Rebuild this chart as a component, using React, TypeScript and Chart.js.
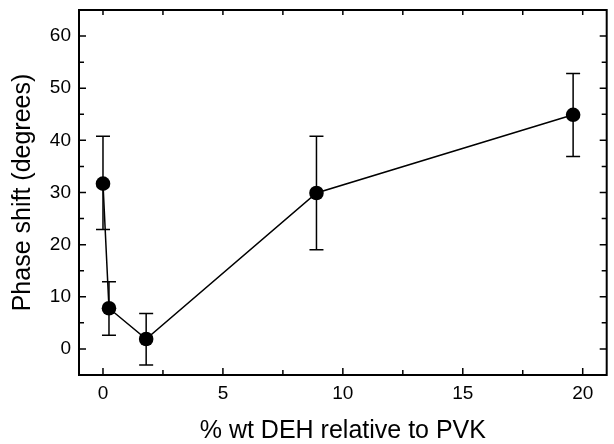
import React, { useEffect, useRef } from "react";
import { Chart, registerables } from "chart.js";

Chart.register(...registerables);

const xValues = [0, 0.25, 1.8, 8.9, 19.6];
const yValues = [31.7, 7.8, 1.9, 29.9, 44.9];
const errLow = [22.9, 2.6, -3.1, 19.0, 36.9];
const errHigh = [40.8, 12.9, 6.8, 40.8, 52.8];
const xTicks = [0, 5, 10, 15, 20];
const yTicks = [0, 10, 20, 30, 40, 50, 60];
const xMinor = [-2.5, 2.5, 7.5, 12.5, 17.5];
const yMinor = [5, 15, 25, 35, 45, 55, 65];
const xTitle = "% wt DEH relative to PVK";
const yTitle = "Phase shift (degrees)";

const FONT = "'Liberation Sans', Arial, sans-serif";

const framePlugin = {
  id: "frameTicks",
  afterDatasetsDraw(chart: any) {
    const { ctx, chartArea: a, scales } = chart;
    const xs = scales.x;
    const ys = scales.y;
    ctx.save();
    ctx.strokeStyle = "#000";
    ctx.lineWidth = 1.5;
    const cap = 7;
    for (let i = 0; i < xValues.length; i++) {
      const px = xs.getPixelForValue(xValues[i]);
      const lo = ys.getPixelForValue(errLow[i]);
      const hi = ys.getPixelForValue(errHigh[i]);
      ctx.beginPath();
      ctx.moveTo(px, lo);
      ctx.lineTo(px, hi);
      ctx.moveTo(px - cap, lo);
      ctx.lineTo(px + cap, lo);
      ctx.moveTo(px - cap, hi);
      ctx.lineTo(px + cap, hi);
      ctx.stroke();
    }
    ctx.lineWidth = 2;
    ctx.strokeRect(a.left, a.top, a.right - a.left, a.bottom - a.top);
    ctx.lineWidth = 1.5;
    const major = 7;
    const minor = 5;
    const inX = (v: number) => v >= xs.min && v <= xs.max;
    const inY = (v: number) => v >= ys.min && v <= ys.max;
    ctx.beginPath();
    for (const v of xTicks.filter(inX)) {
      const p = xs.getPixelForValue(v);
      ctx.moveTo(p, a.bottom);
      ctx.lineTo(p, a.bottom - major);
      ctx.moveTo(p, a.top);
      ctx.lineTo(p, a.top + minor);
    }
    for (const v of xMinor.filter(inX)) {
      const p = xs.getPixelForValue(v);
      ctx.moveTo(p, a.bottom);
      ctx.lineTo(p, a.bottom - minor);
      ctx.moveTo(p, a.top);
      ctx.lineTo(p, a.top + minor);
    }
    for (const v of yTicks.filter(inY)) {
      const p = ys.getPixelForValue(v);
      ctx.moveTo(a.left, p);
      ctx.lineTo(a.left + major, p);
      ctx.moveTo(a.right, p);
      ctx.lineTo(a.right - major, p);
    }
    for (const v of yMinor.filter(inY)) {
      const p = ys.getPixelForValue(v);
      ctx.moveTo(a.left, p);
      ctx.lineTo(a.left + minor, p);
      ctx.moveTo(a.right, p);
      ctx.lineTo(a.right - minor, p);
    }
    ctx.stroke();
    ctx.restore();
  },
};

export default function App() {
  const ref = useRef<HTMLCanvasElement>(null);
  useEffect(() => {
    if (!ref.current) return;
    const chart = new Chart(ref.current, {
      type: "scatter",
      data: {
        datasets: [
          {
            data: xValues.map((x, i) => ({ x, y: yValues[i] })),
            showLine: true,
            borderColor: "#000",
            borderWidth: 1.5,
            backgroundColor: "#000",
            pointRadius: 7.3,
            pointBorderWidth: 0,
            pointBackgroundColor: "#000",
          },
        ],
      },
      options: {
        responsive: false,
        animation: false,
        layout: { padding: { top: 10, right: 4, left: 0, bottom: 0 } },
        plugins: { legend: { display: false }, tooltip: { enabled: false } },
        scales: {
          x: {
            type: "linear",
            min: -1,
            max: 21,
            border: { display: false },
            grid: { display: false, drawTicks: false },
            afterBuildTicks: (s: any) => {
              s.ticks = xTicks.map((v) => ({ value: v }));
            },
            afterFit: (s: any) => {
              s.height = 69;
              s.paddingLeft = 0;
              s.paddingRight = 0;
            },
            ticks: {
              color: "#000",
              font: { family: FONT, size: 19 },
              padding: 7,
              maxRotation: 0,
            },
            title: {
              display: true,
              text: xTitle,
              color: "#000",
              font: { family: FONT, size: 25, lineHeight: 1 },
              padding: { top: 0, bottom: 0 },
            },
          },
          y: {
            type: "linear",
            min: -5,
            max: 65,
            border: { display: false },
            grid: { display: false, drawTicks: false },
            afterBuildTicks: (s: any) => {
              s.ticks = yTicks.map((v) => ({ value: v }));
            },
            afterFit: (s: any) => {
              s.width = 79;
              s.paddingTop = 0;
              s.paddingBottom = 0;
            },
            ticks: {
              color: "#000",
              font: { family: FONT, size: 19 },
              padding: 8,
            },
            title: {
              display: true,
              text: yTitle,
              color: "#000",
              font: { family: FONT, size: 25, lineHeight: 1 },
              padding: { top: 11, bottom: 0 },
            },
          },
        },
      },
      plugins: [framePlugin],
    } as any);
    return () => chart.destroy();
  }, []);
  return (
    <div style={{ position: "fixed", left: 0, top: 0, width: 614, height: 444, background: "#fff" }}>
      <canvas ref={ref} width={614} height={444} />
    </div>
  );
}
